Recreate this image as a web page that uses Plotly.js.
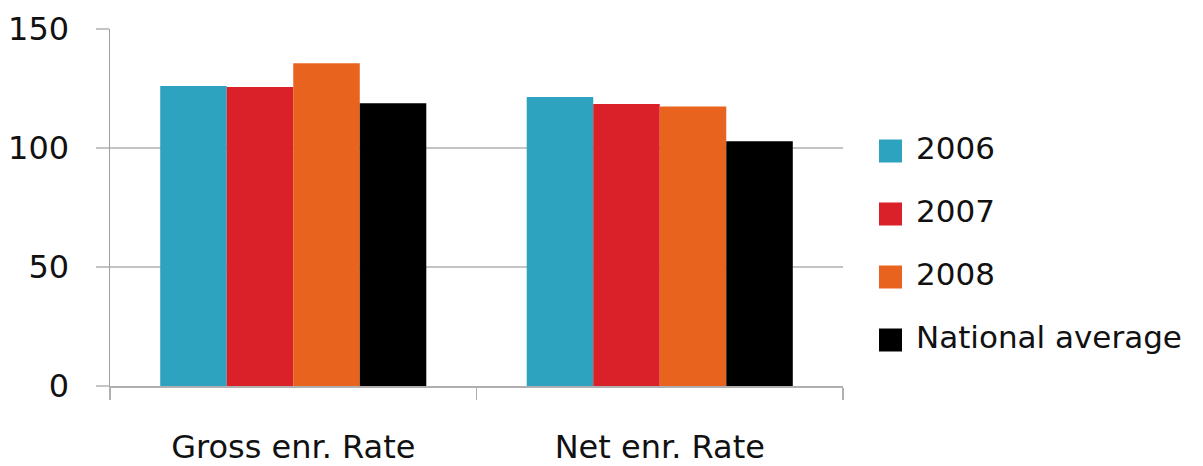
<!DOCTYPE html>
<html>
<head>
<meta charset="utf-8">
<script src="https://cdn.plot.ly/plotly-3.0.1.min.js"></script>
<style>
  html, body { margin: 0; padding: 0; background: #fff; }
  #chart { width: 1203px; height: 466px; }
</style>
</head>
<body>
<div id="chart"></div>
<script>
// Enrolment rates by year, with the national average for comparison
const categories = ['Gross enr. Rate', 'Net enr. Rate'];
const seriesNames = ['2006', '2007', '2008', 'National average'];
const values2006 = [126.0, 121.4];
const values2007 = [125.6, 118.5];
const values2008 = [135.6, 117.4];
const valuesNational = [118.8, 102.8];
const yTicks = [0, 50, 100, 150];

const seriesValues = [values2006, values2007, values2008, valuesNational];
const colors = ['#2ea3c0', '#da2029', '#e8641e', '#000000'];

const W = 1203, H = 466;
const margin = { l: 110, r: W - 843, t: 29, b: H - 386 };
const plotW = W - margin.l - margin.r;
const plotH = H - margin.t - margin.b;
const FONT = 'DejaVu Sans, Verdana, sans-serif';

const traces = seriesNames.map((name, i) => ({
  type: 'bar',
  name: name,
  x: categories,
  y: seriesValues[i],
  marker: { color: colors[i], line: { width: 0 } },
  hoverinfo: 'x+y+name',
  showlegend: false
}));

// Legend drawn as large swatches with labels to the right of the plot
const px2x = px => (px - margin.l) / plotW;
const px2y = py => 1 - (py - margin.t) / plotH;
const legendTop = 151, legendStep = 63, sw = 23;
const shapes = [], annotations = [];
seriesNames.forEach((name, i) => {
  const cy = legendTop + i * legendStep;
  shapes.push({
    type: 'rect', xref: 'paper', yref: 'paper',
    x0: px2x(879), x1: px2x(879 + sw),
    y0: px2y(cy - sw / 2), y1: px2y(cy + sw / 2),
    fillcolor: colors[i], line: { width: 0 }
  });
  annotations.push({
    xref: 'paper', yref: 'paper',
    x: px2x(914), y: px2y(cy - 3),
    xanchor: 'left', yanchor: 'middle',
    text: name, showarrow: false,
    font: { family: FONT, size: 31, color: '#111' }
  });
});

const layout = {
  width: W, height: H,
  margin: margin,
  paper_bgcolor: '#fff', plot_bgcolor: '#fff',
  barmode: 'group',
  bargap: 0.274,
  bargroupgap: 0,
  showlegend: false,
  xaxis: {
    type: 'category',
    showline: true, linecolor: '#b0b0b0', linewidth: 1.5,
    ticks: 'outside', tickson: 'boundaries', ticklen: 12,
    tickcolor: '#b0b0b0', tickwidth: 1.5,
    showgrid: false,
    tickfont: { family: FONT, size: 32, color: '#111' },
    ticklabelstandoff: 32,
    fixedrange: true
  },
  yaxis: {
    range: [0, 150],
    tickvals: yTicks,
    ticktext: yTicks.map(String),
    showline: true, linecolor: '#a0a0a0', linewidth: 1.5,
    ticks: 'outside', ticklen: 13, tickcolor: '#c4c4c4', tickwidth: 1.5,
    showgrid: true, gridcolor: '#c4c4c4', gridwidth: 1.5,
    zeroline: false,
    tickfont: { family: FONT, size: 32, color: '#111' },
    ticklabelstandoff: 20,
    fixedrange: true
  },
  shapes: shapes,
  annotations: annotations
};

Plotly.newPlot('chart', traces, layout, { displayModeBar: false, staticPlot: true });
</script>
</body>
</html>
